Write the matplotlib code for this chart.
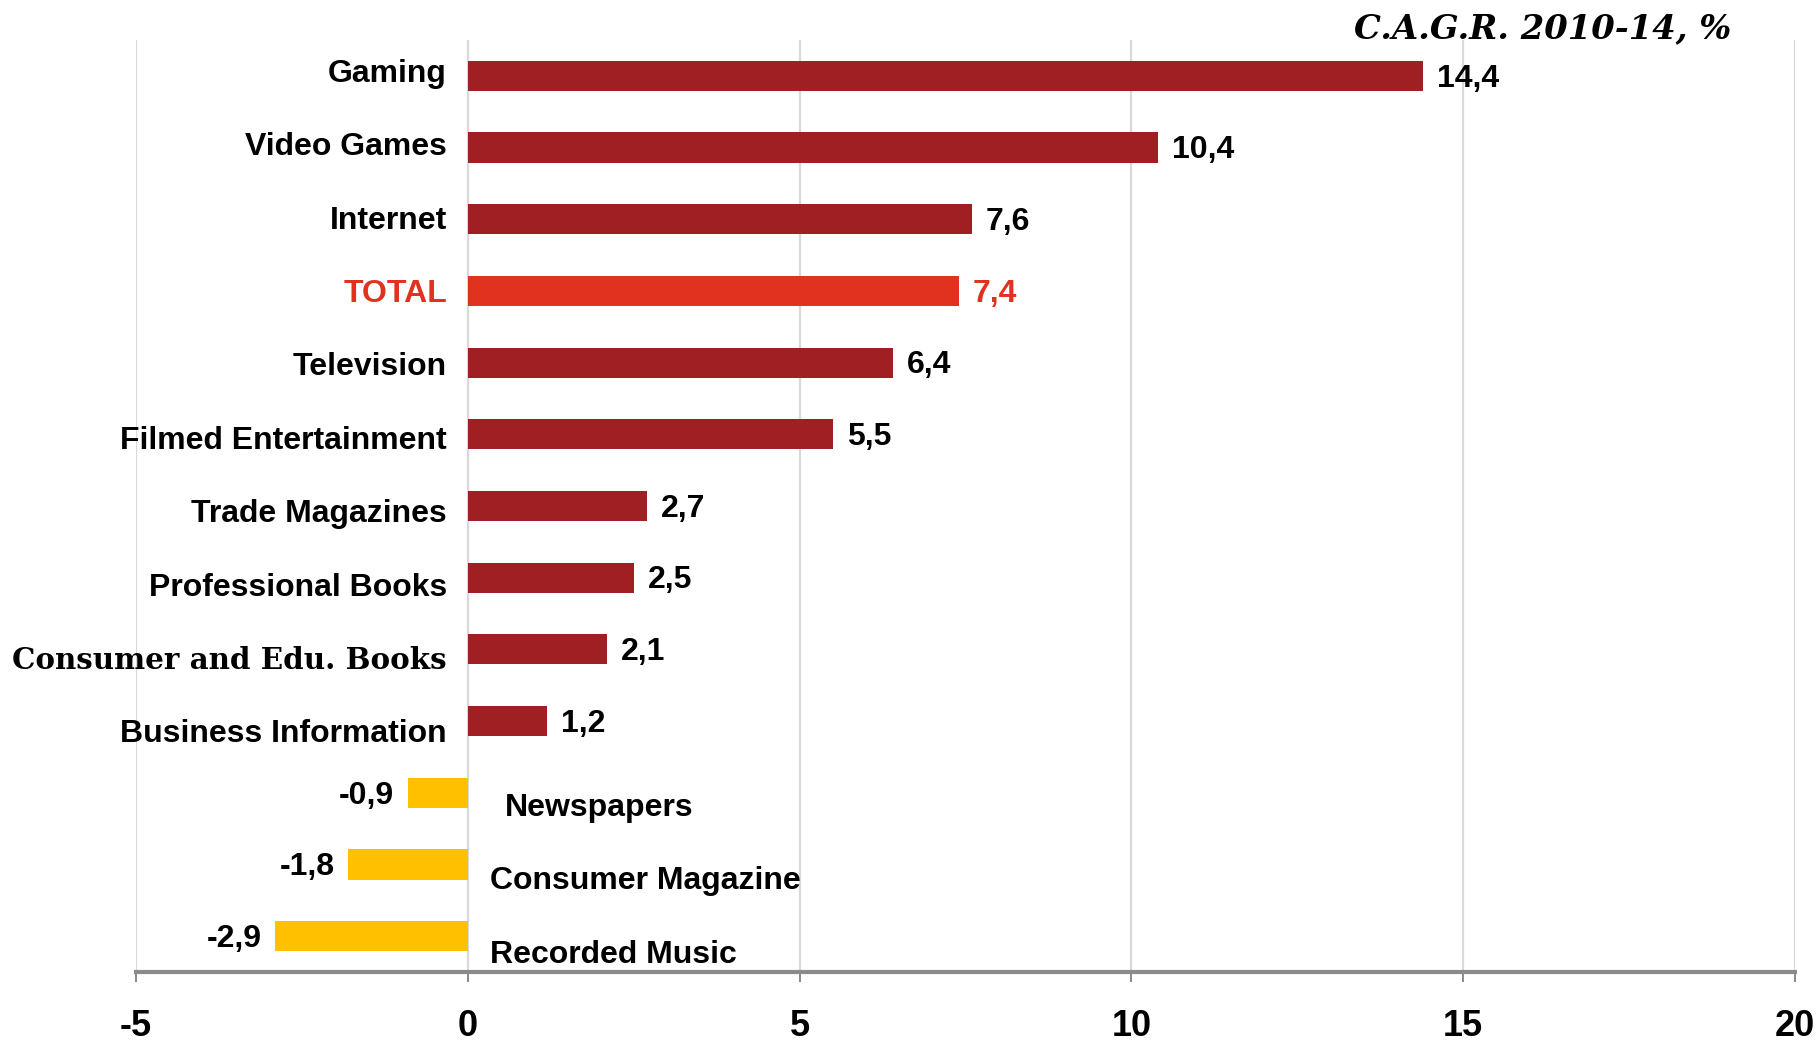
"""
cagr_bars.py
============
Horizontal bar chart of media segment growth rates (C.A.G.R. 2010-14).
"""

import matplotlib
matplotlib.use("Agg")
import matplotlib.pyplot as plt

# Segment names, top to bottom
categories = [
    "Gaming", "Video Games", "Internet", "TOTAL", "Television",
    "Filmed Entertainment", "Trade Magazines", "Professional Books",
    "Consumer and Edu. Books", "Business Information",
    "Newspapers", "Consumer Magazine", "Recorded Music",
]
# Compound annual growth rate, %
values = [14.4, 10.4, 7.6, 7.4, 6.4, 5.5, 2.7, 2.5, 2.1, 1.2, -0.9, -1.8, -2.9]
x_ticks = [-5, 0, 5, 10, 15, 20]
title = "C.A.G.R. 2010-14, %"

DARK_RED = "#a01f22"
TOTAL_RED = "#e0321f"
YELLOW = "#ffc000"
SANS = ["Liberation Sans", "DejaVu Sans"]
SERIF = ["DejaVu Serif"]

plt.rcParams["axes.unicode_minus"] = False

W, H = 1819, 1043
fig = plt.figure(figsize=(W / 100, H / 100), dpi=100)
ax = fig.add_axes([136 / W, 1 - 972 / H, (1795 - 136) / W, (972 - 40) / H])

ypos = list(range(len(categories)))
colors = []
for name, v in zip(categories, values):
    if name == "TOTAL":
        colors.append(TOTAL_RED)
    elif v < 0:
        colors.append(YELLOW)
    else:
        colors.append(DARK_RED)

ax.barh(ypos, values, height=0.42, color=colors, zorder=3)

ax.set_xlim(-5, 20)
ax.set_ylim(len(categories) - 0.5, -0.5)
ax.set_xticks(x_ticks)
ax.set_yticks([])
ax.grid(axis="x", color="#d9d9d9", linewidth=1.6, zorder=0)

for side in ("top", "left", "right"):
    ax.spines[side].set_visible(False)
ax.spines["bottom"].set_color("#8a8a8a")
ax.spines["bottom"].set_linewidth(3)
ax.spines["bottom"].set_zorder(4)
ax.tick_params(axis="x", direction="out", length=7, width=1.4, color="#8a8a8a", pad=20)
for lbl in ax.get_xticklabels():
    lbl.set_fontfamily(SANS)
    lbl.set_fontweight("bold")
    lbl.set_fontsize(26)

# Value labels next to bar ends
for y, v, c in zip(ypos, values, colors):
    txt = f"{v:.1f}".replace(".", ",")
    tc = TOTAL_RED if c == TOTAL_RED else "black"
    if v >= 0:
        ax.annotate(txt, (v, y), xytext=(10, -2), textcoords="offset points",
                    ha="left", va="center", fontsize=23, fontweight="bold",
                    family=SANS, color=tc, zorder=5)
    else:
        ax.annotate(txt, (v, y), xytext=(-10, -2), textcoords="offset points",
                    ha="right", va="center", fontsize=23, fontweight="bold",
                    family=SANS, color=tc, zorder=5)

# Category labels: left of zero for growth, right of zero for decline
neg_offsets = {"Newspapers": 27, "Consumer Magazine": 16, "Recorded Music": 16}
for y, name, v in zip(ypos, categories, values):
    ly = y * 1.024 - 0.03
    color = TOTAL_RED if name == "TOTAL" else "black"
    if name == "Consumer and Edu. Books":
        fam, size = SERIF, 21.2
    else:
        fam, size = SANS, 23
    if v >= 0:
        ax.annotate(name, (0, ly), xytext=(-15, 0), textcoords="offset points",
                    ha="right", va="center", fontsize=size, fontweight="bold",
                    family=fam, color=color, annotation_clip=False)
    else:
        ax.annotate(name, (0, ly), xytext=(neg_offsets[name], 0), textcoords="offset points",
                    ha="left", va="center", fontsize=size, fontweight="bold",
                    family=fam, color=color, annotation_clip=False)

fig.text(1543 / W, 1 - 29 / H, title, ha="center", va="center",
         fontsize=24.3, fontweight="bold", fontstyle="italic", family=SERIF)

fig.savefig("out.png", dpi=100, facecolor="white")
